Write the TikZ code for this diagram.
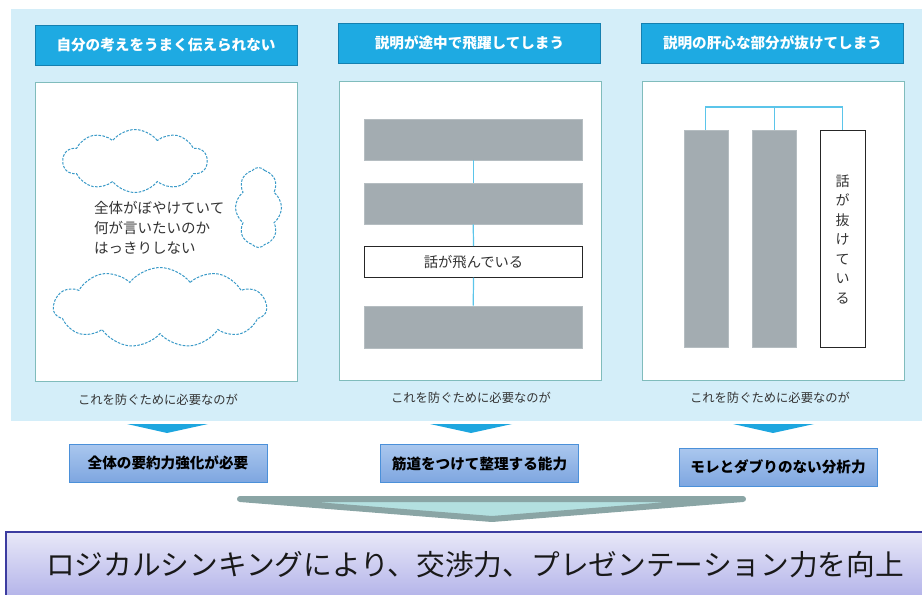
\documentclass[tikz,border=0pt]{standalone}
\usepackage{fontspec}
\setmainfont{Noto Sans CJK JP}
\usetikzlibrary{shapes.symbols}
\definecolor{bgblue}{HTML}{D4EEF9}
\definecolor{hdrfill}{HTML}{1EAAE2}
\definecolor{hdrline}{HTML}{1580B0}
\definecolor{panelline}{HTML}{80BCBC}
\definecolor{bargray}{HTML}{A3ACB1}
\definecolor{conn}{HTML}{5BC5EA}
\definecolor{cloudline}{HTML}{3A9AC8}
\definecolor{txtgray}{HTML}{333333}
\definecolor{trifill}{HTML}{1DA6DF}
\definecolor{restop}{HTML}{AAC7EE}
\definecolor{resbot}{HTML}{7EA6E0}
\definecolor{resline}{HTML}{4B90D9}
\definecolor{arrline}{HTML}{8AA5A5}
\definecolor{arrfill}{HTML}{B3E0E0}
\definecolor{bottop}{HTML}{E8E8F8}
\definecolor{botbot}{HTML}{A8A8E6}
\definecolor{botline}{HTML}{3C3CA0}
\begin{document}
\begin{tikzpicture}[x=1pt,y=-1pt,
  hdr/.style={draw=hdrline, fill=hdrfill, line width=0.8pt, minimum width=262pt, minimum height=40pt, inner sep=0pt, text=white, font=\fontsize{14.6}{16}\selectfont\bfseries},
  panel/.style={draw=panelline, fill=white, line width=0.8pt, anchor=north west, inner sep=0pt},
  gbar/.style={fill=bargray, draw=bargray!80!white, line width=0.4pt, anchor=north west, inner sep=0pt},
  wbox/.style={fill=white, draw=black!85, line width=1.1pt, anchor=north west, inner sep=0pt, text=txtgray, font=\fontsize{14.3}{16}\selectfont},
  cline/.style={draw=conn, line width=1.2pt},
  cloudy/.style={cloud, cloud ignores aspect, cloud puff arc=105, draw=cloudline, dash pattern=on 2.6pt off 1.4pt, line width=1pt, inner sep=0pt},
  small/.style={text=txtgray, font=\fontsize{12.3}{14}\selectfont, inner sep=0pt},
  tri/.style={fill=trifill},
  res/.style={draw=resline, line width=0.8pt, top color=restop, bottom color=resbot, minimum width=198pt, minimum height=38pt, inner sep=0pt, font=\fontsize{14.6}{16}\selectfont\bfseries, text=black},
  bigarrow/.style={draw=arrline, fill=arrfill, line width=6pt, line join=round},
  botbox/.style={draw=botline, line width=1.6pt, top color=bottop, bottom color=botbot, anchor=north west, inner sep=0pt, minimum width=930pt, minimum height=80pt}
]
\useasboundingbox (0,0) rectangle (922,595);
\fill[bgblue] (11,9) rectangle (922,421);

% headers
\node[hdr] (h1) at (166,45) {自分の考えをうまく伝えられない};
\node[hdr] (h2) at (469.5,43) {説明が途中で飛躍してしまう};
\node[hdr] (h3) at (772.5,43) {説明の肝心な部分が抜けてしまう};

% panels
\node[panel, minimum width=262pt, minimum height=299pt] (p1) at (35,82) {};
\node[panel, minimum width=262pt, minimum height=299pt] (p2) at (338.5,81) {};
\node[panel, minimum width=262pt, minimum height=299pt] (p3) at (641.5,81) {};

% panel 1 clouds
\node[cloudy, cloud puffs=10, minimum width=144pt, minimum height=63pt] (cl1) at (135,161) {};
\node[cloudy, cloud puffs=8, minimum width=46pt, minimum height=80pt] (cl2) at (258.5,207.5) {};
\node[cloudy, cloud puffs=11, minimum width=213pt, minimum height=80pt] (cl3) at (160,307.5) {};
\node[anchor=north west, align=left, inner sep=0pt, text=txtgray, font=\fontsize{14.5}{20}\selectfont] (t1) at (94,201) {全体がぼやけていて\\何が言いたいのか\\はっきりしない};

% panel 2 bars
\node[gbar, minimum width=218pt, minimum height=41pt] (b1) at (364,118.5) {};
\node[gbar, minimum width=218pt, minimum height=41pt] (b2) at (364,183) {};
\node[wbox, minimum width=218pt, minimum height=30.5pt] (b3) at (364,246) {話が飛んでいる};
\node[gbar, minimum width=218pt, minimum height=42pt] (b4) at (364,305.5) {};
\draw[cline] (b1.south) -- (b2.north);
\draw[cline] (b2.south) -- (b3.north);
\draw[cline] (b3.south) -- (b4.north);

% panel 3 bars
\node[gbar, minimum width=44pt, minimum height=217pt] (c1) at (683.5,130) {};
\node[gbar, minimum width=44pt, minimum height=217pt] (c2) at (752,130) {};
\node[wbox, minimum width=45pt, minimum height=217pt, align=center, font=\fontsize{14}{19.5}\selectfont] (c3) at (819.5,130) {話\\が\\抜\\け\\て\\い\\る};
\draw[cline] (c1.north) -- ++(0,-23) -| (c3.north);
\draw[cline] (c2.north) -- ++(0,-23);

% small texts
\node[small] (s1) at (158,400) {これを防ぐために必要なのが};
\node[small] (s2) at (471,398) {これを防ぐために必要なのが};
\node[small] (s3) at (770,398) {これを防ぐために必要なのが};

% down triangles
\fill[tri] (127,424) -- (208,424) -- (167,433) -- cycle;
\fill[tri] (430,424) -- (512,424) -- (471,433) -- cycle;
\fill[tri] (733,424) -- (814,424) -- (773,433) -- cycle;

% result boxes
\node[res] (r1) at (168,463) {全体の要約力強化が必要};
\node[res] (r2) at (479.5,463.5) {筋道をつけて整理する能力};
\node[res] (r3) at (778,467) {モレとダブりのない分析力};

% big arrow
\filldraw[bigarrow] (240,499) -- (743,499) -- (492,519) -- cycle;

% bottom box
\node[botbox] (bot) at (5,531) {};
\node[inner sep=0pt, font=\fontsize{28.7}{30}\selectfont, text=black!90] (bt) at (475,565) {ロジカルシンキングにより、交渉力、プレゼンテーション力を向上};
\end{tikzpicture}
\end{document}
